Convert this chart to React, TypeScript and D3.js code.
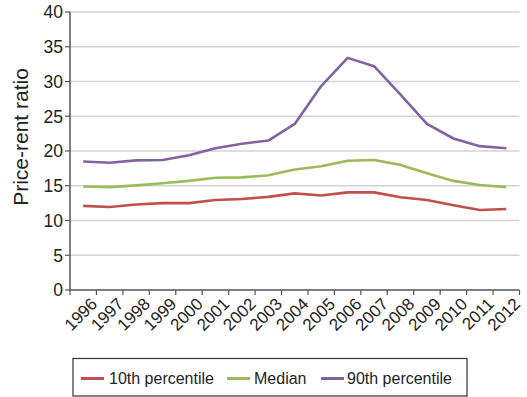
import React from "react";
import * as d3 from "d3";

const years = ["1996","1997","1998","1999","2000","2001","2002","2003","2004","2005","2006","2007","2008","2009","2010","2011","2012"];
const p10 = [12.1, 11.95, 12.3, 12.5, 12.5, 12.95, 13.1, 13.4, 13.9, 13.6, 14.05, 14.05, 13.35, 12.95, 12.2, 11.5, 11.65];
const median = [14.9, 14.8, 15.05, 15.35, 15.7, 16.15, 16.2, 16.5, 17.35, 17.8, 18.6, 18.7, 18.0, 16.8, 15.7, 15.1, 14.8];
const p90 = [18.5, 18.3, 18.65, 18.7, 19.4, 20.4, 21.05, 21.5, 23.9, 29.35, 33.4, 32.2, 28.1, 23.9, 21.8, 20.7, 20.4];
const yTicks = [0, 5, 10, 15, 20, 25, 30, 35, 40];
const seriesNames = ["10th percentile", "Median", "90th percentile"];
const seriesColors = ["#c0504d", "#9bbb59", "#8064a2"];

const W = 527, H = 397;
const left = 70, right = 519.5, top = 12, bottom = 290;
const font = "'Liberation Sans', Arial, Helvetica, sans-serif";

export default function App() {
  const x = d3.scaleBand<string>().domain(years).range([left, right]).paddingInner(0).paddingOuter(0);
  const y = d3.scaleLinear().domain([0, 40]).range([bottom, top]);
  const cx = (yr: string) => (x(yr) as number) + x.bandwidth() / 2;
  const line = d3.line<number>().x((_, i) => cx(years[i])).y((v) => y(v));
  const data = [p10, median, p90];
  const boundaries = d3.range(years.length + 1).map((i) => left + i * x.bandwidth());

  const legendItems = [
    { sx: 81, tx: 109 },
    { sx: 227, tx: 254 },
    { sx: 321, tx: 347 },
  ];

  return (
    <svg width={W} height={H} style={{ position: "absolute", left: 0, top: 0, background: "#fff" }} fontFamily={font}>
      {yTicks.filter((t) => t > 0).map((t) => (
        <line key={t} x1={left} x2={right} y1={y(t)} y2={y(t)} stroke="#d3d3d3" strokeWidth={1.6} />
      ))}
      {data.map((s, i) => (
        <path key={i} d={line(s) || ""} fill="none" stroke={seriesColors[i]} strokeWidth={2.6} strokeLinejoin="round" />
      ))}
      <line x1={left} x2={left} y1={top} y2={bottom} stroke="#555" strokeWidth={1.5} />
      <line x1={left} x2={right} y1={bottom} y2={bottom} stroke="#555" strokeWidth={1.5} />
      {yTicks.map((t) => (
        <g key={t}>
          <line x1={left - 5} x2={left} y1={y(t)} y2={y(t)} stroke="#555" strokeWidth={1.2} />
          <text x={63} y={y(t)} dy="0.36em" textAnchor="end" fontSize={17.5} fill="#222">{t}</text>
        </g>
      ))}
      {boundaries.map((b, i) => (
        <line key={i} x1={b} x2={b} y1={bottom} y2={bottom + 5} stroke="#555" strokeWidth={1.2} />
      ))}
      {years.map((yr) => (
        <text key={yr} transform={`translate(${cx(yr) + 15},305) rotate(-45)`} textAnchor="end" fontSize={17} fill="#222">{yr}</text>
      ))}
      <text transform={`translate(28,137) rotate(-90)`} textAnchor="middle" fontSize={21} fill="#222">Price-rent ratio</text>
      <rect x={73} y={358.5} width={394} height={37.5} fill="#fff" stroke="#333" strokeWidth={1.2} />
      {legendItems.map((it, i) => (
        <g key={i}>
          <line x1={it.sx} x2={it.sx + 23} y1={378.5} y2={378.5} stroke={seriesColors[i]} strokeWidth={3} />
          <text x={it.tx} y={384} fontSize={16} fill="#222">{seriesNames[i]}</text>
        </g>
      ))}
    </svg>
  );
}
